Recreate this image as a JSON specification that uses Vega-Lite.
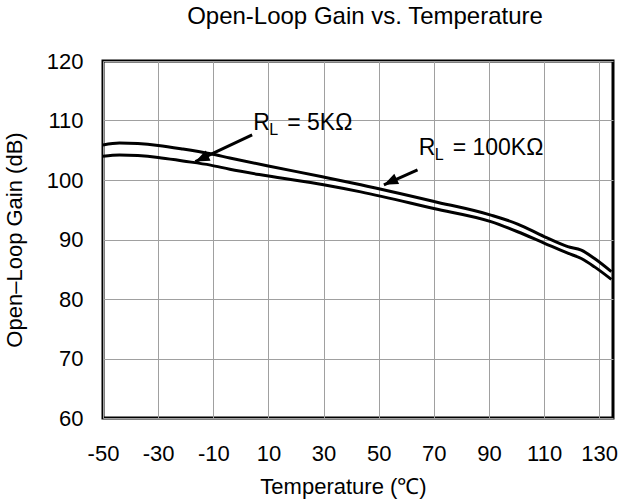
{
  "$schema": "https://vega.github.io/schema/vega-lite/v6.json",
  "width": 510,
  "height": 357,
  "autosize": {"type": "none"},
  "padding": {"left": 103, "top": 61, "right": 7, "bottom": 85},
  "background": "white",
  "config": {
    "font": "Liberation Sans",
    "view": {"stroke": "black", "strokeWidth": 3},
    "axis": {
      "grid": true,
      "gridColor": "#a0a0a0",
      "gridWidth": 1,
      "gridOpacity": 1,
      "domain": false,
      "ticks": false,
      "labelFont": "Liberation Sans",
      "labelFontSize": 22,
      "labelColor": "black",
      "titleFont": "Liberation Sans",
      "titleFontSize": 22,
      "titleFontWeight": "normal",
      "titleColor": "black"
    }
  },
  "title": {
    "text": "Open-Loop Gain vs. Temperature",
    "font": "Liberation Sans",
    "fontSize": 24,
    "fontWeight": "normal",
    "color": "black",
    "offset": 21,
    "dx": 7
  },
  "datasets": {
    "curves": [
      {"series": "100K", "temp": -50, "gain": 105.9},
      {"series": "100K", "temp": -44, "gain": 106.2},
      {"series": "100K", "temp": -30, "gain": 105.8},
      {"series": "100K", "temp": -21, "gain": 105.2},
      {"series": "100K", "temp": -11, "gain": 104.4},
      {"series": "100K", "temp": -4, "gain": 103.7},
      {"series": "100K", "temp": 9.5, "gain": 102.4},
      {"series": "100K", "temp": 30, "gain": 100.5},
      {"series": "100K", "temp": 43.5, "gain": 99.2},
      {"series": "100K", "temp": 70, "gain": 96.4},
      {"series": "100K", "temp": 90.7, "gain": 94.1},
      {"series": "100K", "temp": 100.4, "gain": 92.6},
      {"series": "100K", "temp": 110, "gain": 90.5},
      {"series": "100K", "temp": 118.6, "gain": 88.8},
      {"series": "100K", "temp": 123.5, "gain": 88.2},
      {"series": "100K", "temp": 128.3, "gain": 86.8},
      {"series": "100K", "temp": 134.4, "gain": 84.6},
      {"series": "5K", "temp": -50, "gain": 104.0},
      {"series": "5K", "temp": -44, "gain": 104.2},
      {"series": "5K", "temp": -30, "gain": 103.8},
      {"series": "5K", "temp": -21, "gain": 103.2},
      {"series": "5K", "temp": -11, "gain": 102.5},
      {"series": "5K", "temp": -4, "gain": 101.8},
      {"series": "5K", "temp": 9.5, "gain": 100.7},
      {"series": "5K", "temp": 30, "gain": 99.2},
      {"series": "5K", "temp": 43.5, "gain": 98.0},
      {"series": "5K", "temp": 70, "gain": 95.2},
      {"series": "5K", "temp": 90.7, "gain": 93.0},
      {"series": "5K", "temp": 100.4, "gain": 91.3},
      {"series": "5K", "temp": 110, "gain": 89.4},
      {"series": "5K", "temp": 118.6, "gain": 87.7},
      {"series": "5K", "temp": 123.5, "gain": 86.8},
      {"series": "5K", "temp": 128.3, "gain": 85.4},
      {"series": "5K", "temp": 134.4, "gain": 83.3}
    ],
    "arrows": [
      {"temp": 4.1, "gain": 107.6, "temp2": -16.5, "gain2": 103.1},
      {"temp": 64.1, "gain": 101.7, "temp2": 51.9, "gain2": 99.2}
    ],
    "labels": [
      {"temp": 4.5, "gain": 108.4, "r": "R", "sub": "L", "rest": "= 5KΩ"},
      {"temp": 64.5, "gain": 104.2, "r": "R", "sub": "L", "rest": "= 100KΩ"}
    ]
  },
  "layer": [
    {
      "data": {"name": "curves"},
      "mark": {"type": "line", "color": "black", "strokeWidth": 3, "interpolate": "monotone"},
      "encoding": {
        "x": {
          "field": "temp", "type": "quantitative",
          "scale": {"domain": [-50, 135], "nice": false, "zero": false},
          "axis": {"values": [-50, -30, -10, 10, 30, 50, 70, 90, 110, 130], "title": "Temperature (℃)", "titleX": 240, "titleAlign": "center", "labelPadding": 25, "titlePadding": 12, "labelFlush": false, "labelExpr": "replace(datum.label, '−', '-')"}
        },
        "y": {
          "field": "gain", "type": "quantitative",
          "scale": {"domain": [60, 120], "nice": false, "zero": false},
          "axis": {"values": [60, 70, 80, 90, 100, 110, 120], "title": "Open–Loop Gain (dB)", "labelPadding": 20, "titlePadding": 20}
        },
        "detail": {"field": "series"}
      }
    },
    {
      "data": {"name": "arrows"},
      "mark": {"type": "rule", "color": "black", "strokeWidth": 3},
      "encoding": {
        "x": {"field": "temp", "type": "quantitative"},
        "y": {"field": "gain", "type": "quantitative"},
        "x2": {"field": "temp2"},
        "y2": {"field": "gain2"}
      }
    },
    {
      "data": {"name": "arrows"},
      "mark": {"type": "point", "filled": true, "color": "black", "opacity": 1, "size": 200, "angle": 245, "shape": "M0,0L-0.8,2L0.8,2Z"},
      "encoding": {
        "x": {"field": "temp2", "type": "quantitative"},
        "y": {"field": "gain2", "type": "quantitative"}
      }
    },
    {
      "data": {"name": "labels"},
      "mark": {"type": "text", "align": "left", "baseline": "alphabetic", "fontSize": 23, "color": "black"},
      "encoding": {
        "x": {"field": "temp", "type": "quantitative"},
        "y": {"field": "gain", "type": "quantitative"},
        "text": {"field": "r"}
      }
    },
    {
      "data": {"name": "labels"},
      "mark": {"type": "text", "align": "left", "baseline": "alphabetic", "fontSize": 16, "dx": 16, "dy": 5, "color": "black"},
      "encoding": {
        "x": {"field": "temp", "type": "quantitative"},
        "y": {"field": "gain", "type": "quantitative"},
        "text": {"field": "sub"}
      }
    },
    {
      "data": {"name": "labels"},
      "mark": {"type": "text", "align": "left", "baseline": "alphabetic", "fontSize": 23, "dx": 34, "color": "black"},
      "encoding": {
        "x": {"field": "temp", "type": "quantitative"},
        "y": {"field": "gain", "type": "quantitative"},
        "text": {"field": "rest"}
      }
    }
  ]
}
